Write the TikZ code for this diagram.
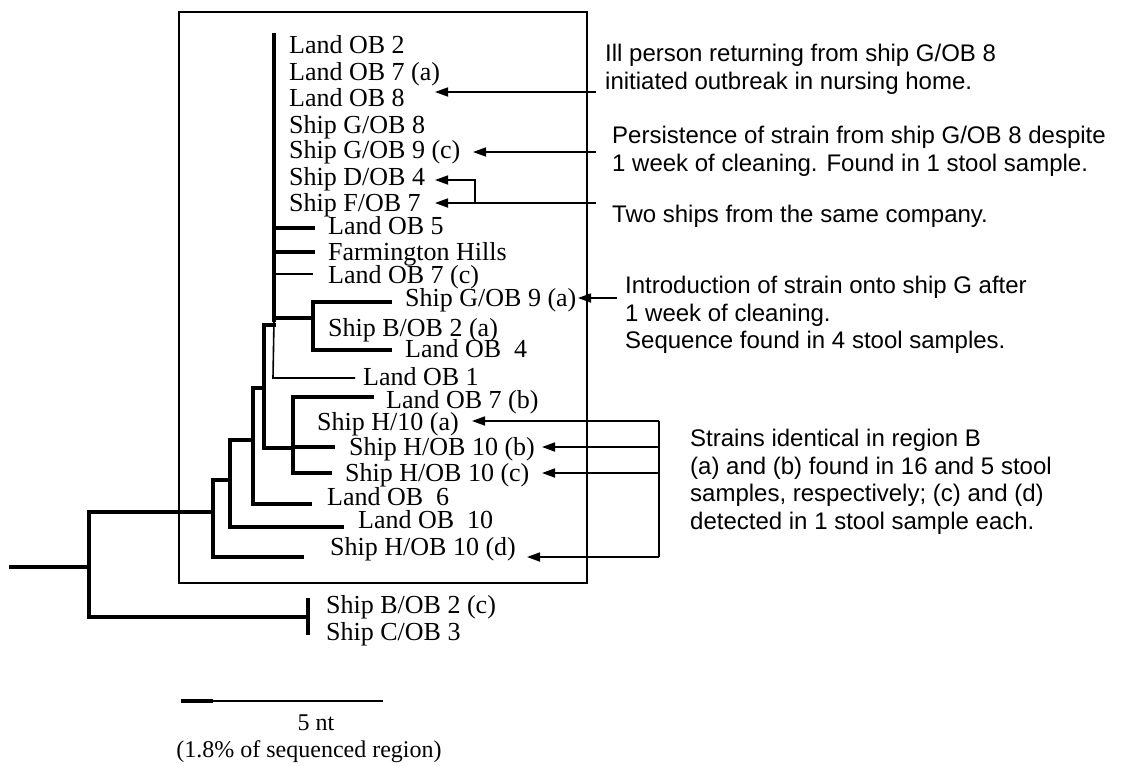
\documentclass[tikz,border=0pt]{standalone}
\usepackage{fontspec}
\setmainfont{Liberation Serif}
\newfontfamily\annfont{Liberation Sans}
\usetikzlibrary{arrows.meta}
\begin{document}
\begin{tikzpicture}[x=1pt,y=-1pt,
  leaf/.style={anchor=west,inner sep=0pt,text height=17pt,text depth=0pt,font=\fontsize{26}{26}\selectfont},
  ann/.style={anchor=north west,inner sep=0pt,align=left,font=\annfont\fontsize{24}{27.5}\selectfont},
  thickbranch/.style={line width=3.3pt,line cap=rect},
  thinbranch/.style={line width=1.6pt},
  pointer/.style={line width=1.7pt,-{Triangle[length=13pt,width=9pt]}},
  plainline/.style={line width=1.7pt},
  frame/.style={line width=1.6pt}]

\useasboundingbox (0,0) rectangle (1144,766);

% frame around the main cluster
\draw[frame] (179,12) rectangle (587,583);

% ---- leaves ----
\node[leaf] (l1)  at (289,45)  {Land OB 2};
\node[leaf] (l2)  at (289,72)  {Land OB 7 (a)};
\node[leaf] (l3)  at (289,98)  {Land OB 8};
\node[leaf] (l4)  at (289,125) {Ship G/OB 8};
\node[leaf] (l5)  at (289,150) {Ship G/OB 9 (c)};
\node[leaf] (l6)  at (289,177) {Ship D/OB 4};
\node[leaf] (l7)  at (289,203) {Ship F/OB 7};
\node[leaf] (l8)  at (328,226) {Land OB 5};
\node[leaf] (l9)  at (328,252) {Farmington Hills};
\node[leaf] (l10) at (328,275) {Land OB 7 (c)};
\node[leaf] (l11) at (405,298) {Ship G/OB 9 (a)};
\node[leaf] (l12) at (328,328) {Ship B/OB 2 (a)};
\node[leaf] (l13) at (405,349) {Land OB\ \ 4};
\node[leaf] (l14) at (363,377) {Land OB 1};
\node[leaf] (l15) at (386,400) {Land OB 7 (b)};
\node[leaf] (l16) at (317,422) {Ship H/10 (a)};
\node[leaf] (l17) at (349,447) {Ship H/OB 10 (b)};
\node[leaf] (l18) at (345,473) {Ship H/OB 10 (c)};
\node[leaf] (l19) at (327,497) {Land OB\ \ 6};
\node[leaf] (l20) at (358,520) {Land OB\ \ 10};
\node[leaf] (l21) at (330,547) {Ship H/OB 10 (d)};
\node[leaf] (l22) at (326,605) {Ship B/OB 2 (c)};
\node[leaf] (l23) at (326,632) {Ship C/OB 3};

% ---- internal tree nodes ----
\coordinate (ctop) at (274,35);
\coordinate (c1) at (274,320);
\coordinate (c2) at (264,325);
\coordinate (cB) at (313,318);
\coordinate (cH) at (293,448);
\coordinate (c3) at (253,388);
\coordinate (c4) at (230,440);
\coordinate (c5) at (213,480);
\coordinate (c6) at (89,512);
\coordinate (cBC) at (308,617);
\coordinate (croot) at (11,567);

% top polytomy
\draw[thickbranch] (ctop) -- (c1);
\draw[thickbranch] (274,228) -- (313,228);
\draw[thickbranch] (274,252) -- (313,252);
\draw[thinbranch] (274,274) -- (313,274);
% B clade
\draw[thickbranch] (c1 |- cB) -- (cB);
\draw[thickbranch] (390,302) -- (313,302) -- (313,350) -- (390,350);
% Land OB 1
\draw[thinbranch] (c1) -- (273,378) -- (355,378);
% joint
\draw[thickbranch] (c1 |- c2) -- (c2) -- (c2 |- cH) -- (cH);
% H clade
\draw[thickbranch] (372,397) -- (293,397) -- (293,473) -- (330,473);
\draw[thickbranch] (293,447) -- (333,447);
% deeper nodes
\draw[thickbranch] (c2 |- c3) -- (c3) -- (253,504) -- (310,504);
\draw[thickbranch] (c3 |- c4) -- (c4) -- (230,527) -- (342,527);
\draw[thickbranch] (c4 |- c5) -- (c5) -- (213,557) -- (302,557);
\draw[thickbranch] (c5 |- c6) -- (c6) -- (89,617) -- (cBC);
\draw[thickbranch] (308,600) -- (308,633);
\draw[thickbranch] (croot) -- (89,567);

% ---- annotations ----
\node[ann] (a1) at (605,44) {Ill person returning from ship G/OB 8\\initiated outbreak in nursing home.};
\node[ann] (a2) at (612,126) {Persistence of strain from ship G/OB 8 despite\\1 week of cleaning. Found in 1 stool sample.};
\node[ann] (a3) at (612,205) {Two ships from the same company.};
\node[ann] (a4) at (625,276) {Introduction of strain onto ship G after\\1 week of cleaning.\\Sequence found in 4 stool samples.};
\node[ann] (a5) at (690,429) {Strains identical in region B\\(a) and (b) found in 16 and 5 stool\\samples, respectively; (c) and (d)\\detected in 1 stool sample each.};

% pointers
\coordinate (s1) at (596,92);
\coordinate (t1) at (435,92);
\draw[pointer] (s1) -- (t1);
\coordinate (s2) at (596,152);
\coordinate (t2) at (473,152);
\draw[pointer] (s2) -- (t2);
\coordinate (s3) at (596,203);
\coordinate (t3) at (435,203);
\coordinate (b3) at (475,203);
\coordinate (t3b) at (435,180);
\draw[pointer] (s3) -- (t3);
\draw[pointer] (b3) -- (b3 |- t3b) -- (t3b);
\coordinate (s4) at (617,298);
\coordinate (t4) at (578,298);
\draw[pointer] (s4) -- (t4);
\coordinate (v5top) at (659,421);
\coordinate (v5bot) at (659,557);
\draw[plainline] (v5top) -- (v5bot);
\draw[pointer] (v5top) -- (472,421);
\draw[pointer] (659,447) -- (542,447);
\draw[pointer] (659,473) -- (542,473);
\draw[pointer] (v5bot) -- (527,557);

% ---- scale bar ----
\coordinate (sb0) at (181,701);
\coordinate (sb1) at (213,701);
\coordinate (sb2) at (383,701);
\draw[line width=3.3pt] (sb0) -- (sb1);
\draw[line width=1.6pt] (sb1) -- (sb2);
\node[font=\fontsize{24}{24}\selectfont,inner sep=0pt] (sbl) at (316,723) {5 nt};
\node[font=\fontsize{24}{24}\selectfont,inner sep=0pt] (sbr) at (309,752) {(1.8\% of sequenced region)};
\end{tikzpicture}
\end{document}
